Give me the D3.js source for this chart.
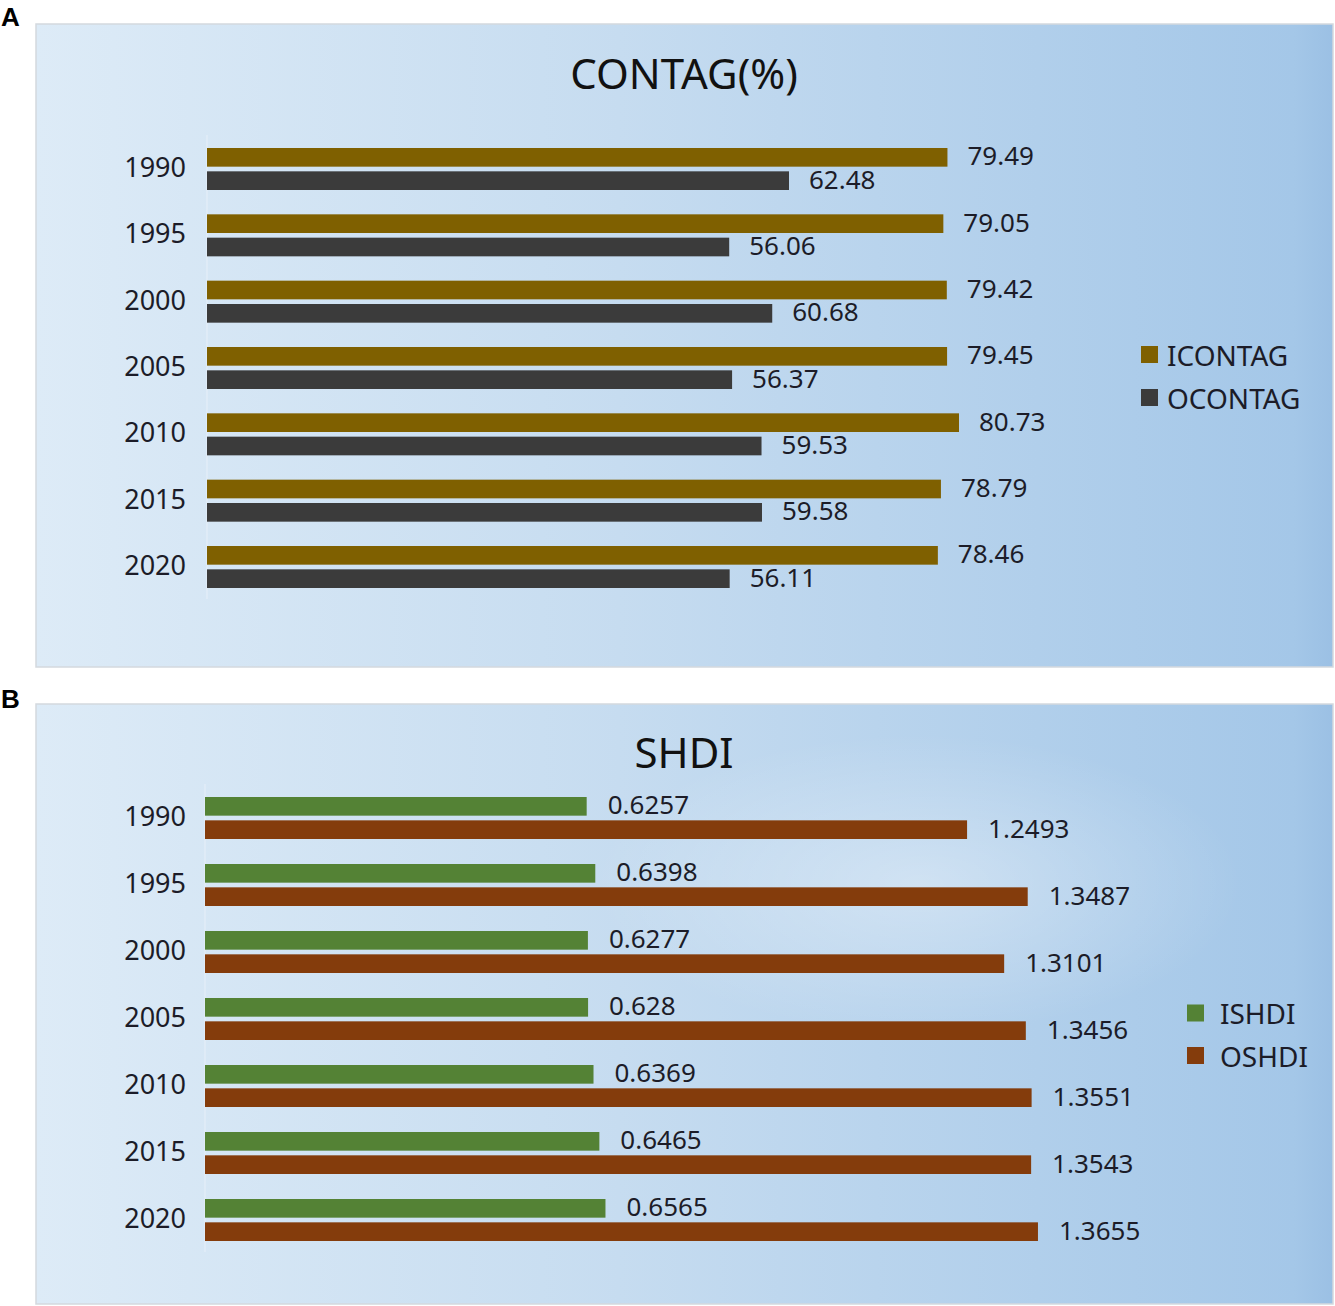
<!DOCTYPE html>
<html><head><meta charset="utf-8">
<script src="https://cdn.jsdelivr.net/npm/d3@7"></script>
<style>body{margin:0;background:#fff}svg{display:block}</style>
</head><body>
<script>
const years = ["1990","1995","2000","2005","2010","2015","2020"];
const icontag = [79.49, 79.05, 79.42, 79.45, 80.73, 78.79, 78.46];
const ocontag = [62.48, 56.06, 60.68, 56.37, 59.53, 59.58, 56.11];
const ishdi = [0.6257, 0.6398, 0.6277, 0.628, 0.6369, 0.6465, 0.6565];
const oshdi = [1.2493, 1.3487, 1.3101, 1.3456, 1.3551, 1.3543, 1.3655];

const W = 1335, H = 1306;
const FONT = "'Noto Sans', 'DejaVu Sans', sans-serif";
const svg = d3.select("body").append("svg").attr("width", W).attr("height", H);
const defs = svg.append("defs");
const g1 = defs.append("linearGradient").attr("id","bg").attr("x1","0").attr("x2","1").attr("y1","0").attr("y2","0");
g1.append("stop").attr("offset","0").attr("stop-color","#ddebf7");
g1.append("stop").attr("offset","0.45").attr("stop-color","#c6dcf0");
g1.append("stop").attr("offset","0.97").attr("stop-color","#a4c7e8");
g1.append("stop").attr("offset","1").attr("stop-color","#9bc0e4");
const rg = defs.append("radialGradient").attr("id","glow").attr("cx","0.68").attr("cy","0.3").attr("r","0.25");
rg.append("stop").attr("offset","0").attr("stop-color","#ffffff").attr("stop-opacity",0.35);
rg.append("stop").attr("offset","1").attr("stop-color","#ffffff").attr("stop-opacity",0);

function panel(cfg) {
  const g = svg.append("g");
  g.append("rect").attr("x", cfg.box[0]).attr("y", cfg.box[1])
    .attr("width", cfg.box[2]-cfg.box[0]).attr("height", cfg.box[3]-cfg.box[1])
    .attr("fill","url(#bg)").attr("stroke","#d4d9de").attr("stroke-width",1.5);
  if (cfg.glow) {
    g.append("rect").attr("x", cfg.box[0]).attr("y", cfg.box[1])
      .attr("width", cfg.box[2]-cfg.box[0]).attr("height", cfg.box[3]-cfg.box[1])
      .attr("fill","url(#glow)");
  }
  svg.append("text").attr("x", 1).attr("y", cfg.letterY).text(cfg.letter)
    .attr("font-family","'Liberation Sans', Arial, sans-serif").attr("font-weight","bold")
    .attr("font-size", 26).attr("fill","#000");
  g.append("text").attr("x", cfg.titleX).attr("y", cfg.titleY).text(cfg.title)
    .attr("text-anchor","middle").attr("dominant-baseline","central")
    .attr("font-family",FONT).attr("font-size",42).attr("fill","#111");

  const x = d3.scaleLinear().domain(cfg.xDomain).range(cfg.xRange);
  const y = d3.scalePoint().domain(years).range(cfg.yRange);
  const sub = d3.scaleBand().domain([0,1]).range([-21,21]).paddingInner(0.2);

  g.append("line").attr("x1", x(0)).attr("x2", x(0))
    .attr("y1", cfg.yRange[0]-34).attr("y2", cfg.yRange[1]+32)
    .attr("stroke","#e4eef8").attr("stroke-width",1.2);

  const yAxis = d3.axisLeft(y).tickSize(0).tickPadding(0);
  const ax = g.append("g").attr("transform",`translate(${cfg.yLabelX},-1)`).call(yAxis);
  ax.select(".domain").remove();
  ax.selectAll("text").attr("font-family",FONT).attr("font-size",27).attr("fill","#1c1c28");

  cfg.series.forEach((s, si) => {
    const rows = years.map((yr, i) => ({yr, v: s.values[i]}));
    g.selectAll(null).data(rows).enter().append("rect")
      .attr("x", x(0)).attr("y", d => y(d.yr) + sub(si))
      .attr("width", d => x(d.v) - x(0)).attr("height", sub.bandwidth())
      .attr("fill", s.color);
    g.selectAll(null).data(rows).enter().append("text")
      .attr("x", d => x(d.v) + cfg.labelGap)
      .attr("y", d => y(d.yr) + sub(si) + sub.bandwidth()/2 - 2)
      .attr("dominant-baseline","central")
      .attr("font-family",FONT).attr("font-size",26).attr("fill","#1c1c28")
      .text(d => String(d.v));
    const ly = cfg.legend[1] + si*cfg.legend[3];
    g.append("rect").attr("x", cfg.legend[0]).attr("y", ly-8.5).attr("width",17).attr("height",17).attr("fill", s.color);
    g.append("text").attr("x", cfg.legend[0] + cfg.legend[2]).attr("y", ly)
      .attr("dominant-baseline","central").attr("font-family",FONT).attr("font-size",28).attr("fill","#1c1c28")
      .text(s.name);
  });
}

panel({
  box:[36,24,1333,667], letter:"A", letterY:26, title:"CONTAG(%)", titleX:684, titleY:72,
  xDomain:[0,90], xRange:[207, 207+90*9.315],
  yRange:[169, 567], yLabelX:186, labelGap:20,
  legend:[1141, 354.5, 26, 43],
  series:[{name:"ICONTAG", values:icontag, color:"#7f6000"},
          {name:"OCONTAG", values:ocontag, color:"#3b3b3b"}]
});
panel({
  box:[36,704,1333,1304], letter:"B", letterY:708, title:"SHDI", titleX:684, titleY:751, glow:true,
  xDomain:[0,1.5], xRange:[205, 205+1.5*610],
  yRange:[818, 1220], yLabelX:186, labelGap:21,
  legend:[1187, 1013, 33, 42.5],
  series:[{name:"ISHDI", values:ishdi, color:"#548235"},
          {name:"OSHDI", values:oshdi, color:"#843c0c"}]
});
</script>
</body></html>
